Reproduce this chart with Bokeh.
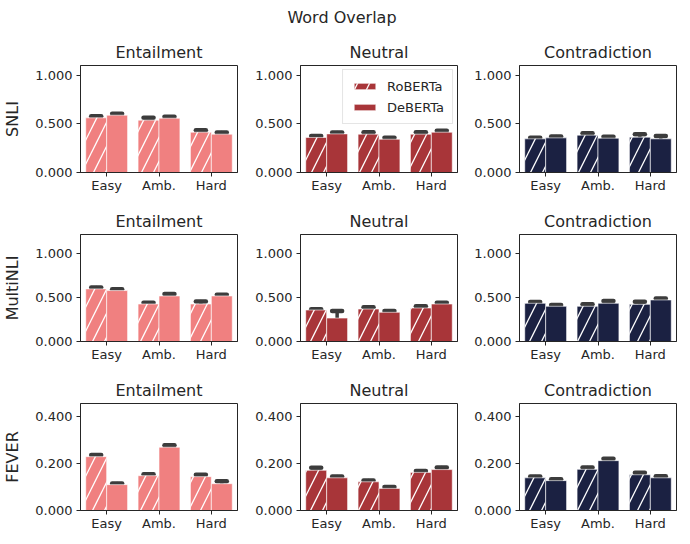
from bokeh.plotting import figure
from bokeh.models import (FactorRange, Range1d, FixedTicker, Whisker, TeeHead,
                          ColumnDataSource, Div, Legend, LegendItem, NumeralTickFormatter)
from bokeh.transform import dodge
from bokeh.layouts import gridplot, column
from bokeh.embed import file_html
from bokeh.resources import INLINE

SUPTITLE = "Word Overlap"
DIFFICULTY = ["Easy", "Amb.", "Hard"]
LABELS = ["Entailment", "Neutral", "Contradiction"]
DATASETS = ["SNLI", "MultiNLI", "FEVER"]
MODELS = ["RoBERTa", "DeBERTa"]

# mean values per label, over DIFFICULTY
SNLI_ROBERTA = {"Entailment": [0.562, 0.538, 0.414], "Neutral": [0.360, 0.394, 0.394], "Contradiction": [0.346, 0.384, 0.363]}
SNLI_DEBERTA = {"Entailment": [0.589, 0.558, 0.394], "Neutral": [0.397, 0.342, 0.414], "Contradiction": [0.356, 0.353, 0.346]}
SNLI_ROBERTA_ERR = {"Entailment": [0.015, 0.025, 0.020], "Neutral": [0.015, 0.020, 0.020], "Contradiction": [0.010, 0.020, 0.030]}
SNLI_DEBERTA_ERR = {"Entailment": [0.015, 0.015, 0.018], "Neutral": [0.015, 0.015, 0.015], "Contradiction": [0.015, 0.015, 0.030]}

MNLI_ROBERTA = {"Entailment": [0.595, 0.424, 0.424], "Neutral": [0.356, 0.367, 0.379], "Contradiction": [0.432, 0.398, 0.420]}
MNLI_DEBERTA = {"Entailment": [0.576, 0.515, 0.515], "Neutral": [0.265, 0.330, 0.424], "Contradiction": [0.398, 0.432, 0.470]}
MNLI_ROBERTA_ERR = {"Entailment": [0.015, 0.015, 0.028], "Neutral": [0.010, 0.020, 0.020], "Contradiction": [0.015, 0.023, 0.030]}
MNLI_DEBERTA_ERR = {"Entailment": [0.015, 0.023, 0.015], "Neutral": [0.080, 0.015, 0.015], "Contradiction": [0.015, 0.025, 0.015]}

FEVER_ROBERTA = {"Entailment": [0.229, 0.148, 0.144], "Neutral": [0.171, 0.122, 0.162], "Contradiction": [0.139, 0.175, 0.152]}
FEVER_DEBERTA = {"Entailment": [0.110, 0.269, 0.114], "Neutral": [0.139, 0.094, 0.174], "Contradiction": [0.127, 0.212, 0.139]}
FEVER_ROBERTA_ERR = {"Entailment": [0.007, 0.006, 0.008], "Neutral": [0.011, 0.006, 0.006], "Contradiction": [0.006, 0.008, 0.008]}
FEVER_DEBERTA_ERR = {"Entailment": [0.005, 0.008, 0.010], "Neutral": [0.006, 0.006, 0.009], "Contradiction": [0.006, 0.008, 0.007]}

Y_MAX = [1.10, 1.21, 0.455]
Y_TICKS = [[0.0, 0.5, 1.0], [0.0, 0.5, 1.0], [0.0, 0.2, 0.4]]

COLORS = {"Entailment": "#F08080", "Neutral": "#A83539", "Contradiction": "#1B2142"}
ERR_COLOR = "#3c3c3c"
TEXT = "#262626"
FONT = "DejaVu Sans"

data = [
    (SNLI_ROBERTA, SNLI_DEBERTA, SNLI_ROBERTA_ERR, SNLI_DEBERTA_ERR),
    (MNLI_ROBERTA, MNLI_DEBERTA, MNLI_ROBERTA_ERR, MNLI_DEBERTA_ERR),
    (FEVER_ROBERTA, FEVER_DEBERTA, FEVER_ROBERTA_ERR, FEVER_DEBERTA_ERR),
]

col_borders = [(75, 5), (58, 4), (58, 2)]
row_borders = [(32, 28), (34, 28), (34, 22)]

rows = []
for ri, ds in enumerate(DATASETS):
    rob, deb, rob_e, deb_e = data[ri]
    row = []
    for ci, lab in enumerate(LABELS):
        p = figure(x_range=FactorRange(factors=DIFFICULTY, range_padding=0),
                   y_range=Range1d(0, Y_MAX[ri]),
                   frame_width=157, frame_height=107,
                   min_border_left=col_borders[ci][0], min_border_right=col_borders[ci][1],
                   min_border_top=row_borders[ri][0], min_border_bottom=row_borders[ri][1],
                   output_backend="svg", toolbar_location=None, title=lab)
        p.title.align = "center"
        p.title.text_font = FONT
        p.title.text_font_size = "16px"
        p.title.text_font_style = "normal"
        p.title.text_color = TEXT
        p.title.standoff = 7
        p.xgrid.visible = False
        p.ygrid.visible = False
        p.outline_line_color = TEXT
        p.outline_line_alpha = 1
        p.outline_line_width = 1
        for ax in (p.xaxis[0], p.yaxis[0]):
            ax.axis_line_color = TEXT
            ax.major_tick_line_color = TEXT
            ax.major_tick_out = 4
            ax.major_tick_in = 0
            ax.minor_tick_line_color = None
            ax.major_label_text_font = FONT
            ax.major_label_text_font_size = "13px"
            ax.major_label_text_color = TEXT
        p.xaxis[0].major_label_standoff = 1
        p.yaxis[0].ticker = FixedTicker(ticks=Y_TICKS[ri])
        p.yaxis[0].formatter = NumeralTickFormatter(format="0.000")
        p.yaxis[0].major_label_standoff = 4
        if ci == 0:
            p.yaxis[0].axis_label = ds
            p.yaxis[0].axis_label_text_font = FONT
            p.yaxis[0].axis_label_text_font_size = "16px"
            p.yaxis[0].axis_label_text_font_style = "normal"
            p.yaxis[0].axis_label_text_color = TEXT
            p.yaxis[0].axis_label_standoff = 10

        src = ColumnDataSource(dict(
            cat=DIFFICULTY,
            rob=rob[lab], deb=deb[lab],
            rob_lo=[v - e for v, e in zip(rob[lab], rob_e[lab])],
            rob_hi=[v + e for v, e in zip(rob[lab], rob_e[lab])],
            deb_lo=[v - e for v, e in zip(deb[lab], deb_e[lab])],
            deb_hi=[v + e for v, e in zip(deb[lab], deb_e[lab])],
        ))
        color = COLORS[lab]
        r1 = p.vbar(x=dodge("cat", -0.2, range=p.x_range), top="rob", width=0.4, source=src,
                    fill_color=color, line_color="white", line_width=1, line_alpha=0.6,
                    hatch_pattern="/", hatch_color="white", hatch_scale=24, hatch_weight=1.3)
        r2 = p.vbar(x=dodge("cat", 0.2, range=p.x_range), top="deb", width=0.4, source=src,
                    fill_color=color, line_color="white", line_width=1, line_alpha=0.6)
        for key, off in (("rob", -0.2), ("deb", 0.2)):
            w = Whisker(source=src, base=dodge("cat", off, range=p.x_range),
                        lower=key + "_lo", upper=key + "_hi",
                        line_color=ERR_COLOR, line_width=3.5, line_cap="round",
                        upper_head=TeeHead(size=10, line_color=ERR_COLOR, line_width=4.5, line_cap="round"),
                        lower_head=TeeHead(size=10, line_color=ERR_COLOR, line_width=4.5, line_cap="round"))
            p.add_layout(w)
        if ri == 0 and ci == 1:
            leg = Legend(items=[LegendItem(label=MODELS[0], renderers=[r1]),
                                LegendItem(label=MODELS[1], renderers=[r2])],
                         location="top_right")
            leg.label_text_font = FONT
            leg.label_text_font_size = "13px"
            leg.label_text_color = TEXT
            leg.glyph_width = 27
            leg.glyph_height = 8
            leg.label_height = 16
            leg.label_standoff = 9
            leg.spacing = 5
            leg.padding = 8
            leg.margin = 4
            leg.border_line_color = "#cccccc"
            leg.border_line_width = 1
            leg.background_fill_alpha = 0.85
            p.add_layout(leg)
        row.append(p)
    rows.append(row)

title = Div(text=SUPTITLE, width=674, height=23,
            styles={"text-align": "center", "font-size": "16px", "font-family": FONT,
                    "color": TEXT, "line-height": "20px", "width": "674px",
                    "padding-top": "3px"})
grid = gridplot(rows, toolbar_location=None)
layout = column(title, grid, spacing=0)

open("out.html", "w").write(file_html(layout, INLINE))
